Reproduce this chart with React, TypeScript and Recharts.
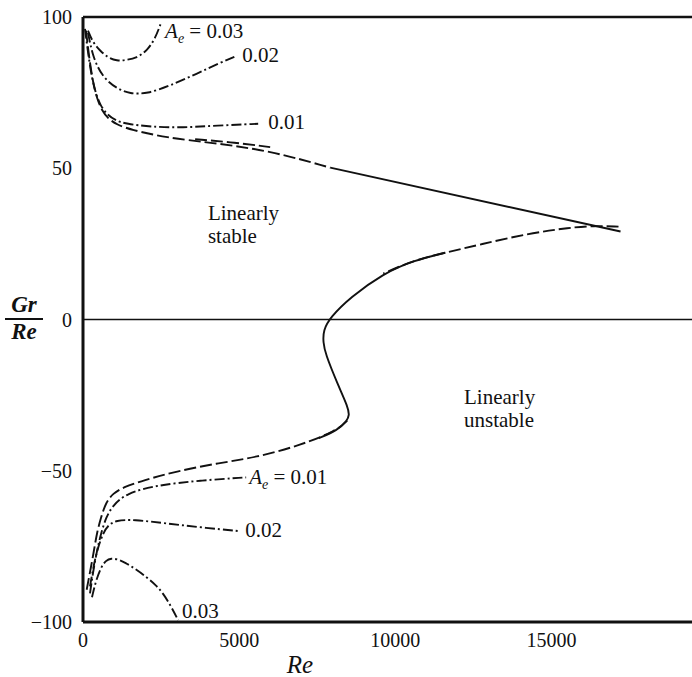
import React from "react"
import { LineChart, Line, XAxis, YAxis, ReferenceLine, ReferenceDot } from "recharts"

type Pt = { re: number; g: number }

const reTicks = [0, 5000, 10000, 15000]
const grReTicks = [-100, -50, 0, 50, 100]

// neutral stability curve, upper branch
const neutralUpperDashed: Pt[] = [
  { re: 96, g: 95.5 }, { re: 192, g: 86.9 }, { re: 320, g: 78.3 }, { re: 449, g: 73 },
  { re: 609, g: 69 }, { re: 801, g: 66.4 }, { re: 1090, g: 64.4 }, { re: 1506, g: 62.8 },
  { re: 2660, g: 60.1 }, { re: 4070, g: 58.5 }, { re: 5993, g: 55.8 }, { re: 7917, g: 50.2 },
]
const neutralUpperDouble: Pt[] = [
  { re: 3590, g: 59.6 }, { re: 4872, g: 58.5 }, { re: 5993, g: 57 },
]
const neutralUpperSolid: Pt[] = [
  { re: 7917, g: 50.2 }, { re: 17212, g: 29.1 },
]

// neutral stability curve, lower branch (from the nose back to small Re)
const neutralLowerDashedA: Pt[] = [
  { re: 17147, g: 30.7 }, { re: 16346, g: 31 }, { re: 15608, g: 30.4 }, { re: 14230, g: 28.4 },
  { re: 12724, g: 24.8 }, { re: 11602, g: 22.1 }, { re: 10577, g: 19.5 }, { re: 9615, g: 15.2 },
]
const neutralLowerSolid: Pt[] = [
  { re: 11602, g: 22.1 }, { re: 10577, g: 19.5 }, { re: 9615, g: 15.2 }, { re: 8557, g: 7.3 },
  { re: 7917, g: 0.7 }, { re: 7692, g: -3.6 }, { re: 7692, g: -7.6 }, { re: 7756, g: -11.2 },
  { re: 8141, g: -21.1 }, { re: 8493, g: -29.1 }, { re: 8525, g: -31.7 }, { re: 8461, g: -33.4 },
  { re: 8141, g: -36.7 }, { re: 7550, g: -39.2 },
]
const neutralLowerDashedB: Pt[] = [
  { re: 8461, g: -33.4 }, { re: 8141, g: -36.7 }, { re: 6955, g: -41.6 }, { re: 5545, g: -45.6 },
  { re: 4263, g: -47.6 }, { re: 2981, g: -50.2 }, { re: 1923, g: -53.2 }, { re: 1282, g: -55.5 },
  { re: 961, g: -57.5 }, { re: 737, g: -60.4 }, { re: 577, g: -65.4 }, { re: 449, g: -70.3 },
  { re: 353, g: -76.3 }, { re: 224, g: -83.6 }, { re: 96, g: -90.5 },
]

// finite-amplitude curves, Gr/Re > 0
const upper003: Pt[] = [
  { re: 160, g: 95.5 }, { re: 320, g: 91.5 }, { re: 545, g: 88.9 }, { re: 801, g: 86.5 },
  { re: 1090, g: 85.5 }, { re: 1346, g: 85.7 }, { re: 1731, g: 86.5 }, { re: 2051, g: 88.9 },
  { re: 2308, g: 92.8 }, { re: 2500, g: 98.1 },
]
const upper002: Pt[] = [
  { re: 160, g: 94.8 }, { re: 320, g: 86.5 }, { re: 641, g: 79.9 }, { re: 1090, g: 76.3 },
  { re: 1506, g: 74.6 }, { re: 2051, g: 74.6 }, { re: 2788, g: 77.3 }, { re: 3654, g: 81.3 },
  { re: 4391, g: 84.9 }, { re: 4936, g: 87.2 },
]
const upper001: Pt[] = [
  { re: 64, g: 96.1 }, { re: 160, g: 88.2 }, { re: 288, g: 79.6 }, { re: 417, g: 74.6 },
  { re: 545, g: 71 }, { re: 769, g: 67.7 }, { re: 1058, g: 65.7 }, { re: 1378, g: 64.7 },
  { re: 2147, g: 63.7 }, { re: 3205, g: 63.4 }, { re: 4263, g: 64.1 }, { re: 5609, g: 64.7 },
]

// finite-amplitude curves, Gr/Re < 0
const lower001: Pt[] = [
  { re: 224, g: -90.5 }, { re: 320, g: -83.6 }, { re: 449, g: -76.3 }, { re: 577, g: -70.7 },
  { re: 737, g: -65.4 }, { re: 961, g: -61.4 }, { re: 1378, g: -57.5 }, { re: 2340, g: -54.8 },
  { re: 3750, g: -53.2 }, { re: 5224, g: -52.2 },
]
const lower002: Pt[] = [
  { re: 224, g: -88.2 }, { re: 353, g: -80.6 }, { re: 481, g: -75.3 }, { re: 641, g: -70.7 },
  { re: 801, g: -68 }, { re: 1058, g: -66.4 }, { re: 1603, g: -66.1 }, { re: 2660, g: -67.4 },
  { re: 3750, g: -68.7 }, { re: 5032, g: -70 },
]
const lower003: Pt[] = [
  { re: 288, g: -91.8 }, { re: 417, g: -86.2 }, { re: 577, g: -81.9 }, { re: 737, g: -79.6 },
  { re: 897, g: -78.9 }, { re: 1122, g: -79.3 }, { re: 1346, g: -80.3 }, { re: 1699, g: -82.6 },
  { re: 2051, g: -85.3 }, { re: 2340, g: -87.9 }, { re: 2564, g: -90.5 }, { re: 2820, g: -94.8 },
  { re: 3045, g: -99.4 },
]

const INK = "#111"
const SERIF = '"Liberation Serif", "Times New Roman", Times, "DejaVu Serif", "Noto Serif", serif'
const DASH = "12 4"
const CHAIN = "10 3 2 3"

const last = (a: Pt[]) => a[a.length - 1]

const fmtTick = (v: number) => (v < 0 ? `\u2212${-v}` : `${v}`)

// text placed relative to the end point of a curve
function endLabel(dx: number, dy: number, value: string, withAe: boolean) {
  return (p: any) => (
    <text x={p.cx + dx} y={p.cy + dy} fontFamily={SERIF} fontSize={21} fill={INK}>
      {withAe && <tspan fontStyle="italic">A</tspan>}
      {withAe && <tspan fontStyle="italic" fontSize={14} dy={5}>e</tspan>}
      {withAe && <tspan dy={-5}>{" = "}</tspan>}
      <tspan>{value}</tspan>
    </text>
  )
}

function regionLabel(text: string, dy: number) {
  return (p: any) => (
    <text x={p.cx} y={p.cy + dy} fontFamily={SERIF} fontSize={21} fill={INK}>
      {text}
    </text>
  )
}

const annotations: { pts: Pt[]; dx: number; dy: number; text: string; ae: boolean }[] = [
  { pts: upper003, dx: 4, dy: 15, text: "0.03", ae: true },
  { pts: upper002, dx: 5, dy: 6, text: "0.02", ae: false },
  { pts: upper001, dx: 10, dy: 5, text: "0.01", ae: false },
  { pts: lower001, dx: 3, dy: 7, text: "0.01", ae: true },
  { pts: lower002, dx: 5, dy: 6, text: "0.02", ae: false },
  { pts: lower003, dx: 4, dy: -2, text: "0.03", ae: false },
]

const series: { pts: Pt[]; dash?: string; curve: "basis" | "linear" }[] = [
  { pts: neutralUpperDashed, dash: DASH, curve: "basis" },
  { pts: neutralUpperDouble, dash: DASH, curve: "basis" },
  { pts: neutralUpperSolid, curve: "linear" },
  { pts: neutralLowerDashedA, dash: DASH, curve: "basis" },
  { pts: neutralLowerDashedB, dash: DASH, curve: "basis" },
  { pts: neutralLowerSolid, curve: "basis" },
  { pts: upper003, dash: CHAIN, curve: "basis" },
  { pts: upper002, dash: CHAIN, curve: "basis" },
  { pts: upper001, dash: CHAIN, curve: "basis" },
  { pts: lower001, dash: CHAIN, curve: "basis" },
  { pts: lower002, dash: CHAIN, curve: "basis" },
  { pts: lower003, dash: CHAIN, curve: "basis" },
]

export default function App() {
  return (
    <div style={{ position: "absolute", left: 0, top: 0, width: 692, height: 677, background: "#fff" }}>
      <LineChart width={692} height={677} margin={{ top: 17, right: 0, bottom: 0, left: 0 }}>
        <XAxis
          dataKey="re"
          type="number"
          domain={[0, 19500]}
          ticks={reTicks}
          allowDataOverflow
          tickSize={0}
          tickMargin={11}
          height={55}
          axisLine={{ stroke: INK, strokeWidth: 3 }}
          tick={{ fill: INK, fontSize: 20, fontFamily: SERIF }}
        />
        <YAxis
          dataKey="g"
          type="number"
          domain={[-100, 100]}
          ticks={grReTicks}
          allowDataOverflow
          tickFormatter={fmtTick}
          tickSize={0}
          tickMargin={11}
          width={83}
          axisLine={{ stroke: INK, strokeWidth: 3 }}
          tick={{ fill: INK, fontSize: 20, fontFamily: SERIF }}
        />
        <ReferenceLine y={100} stroke={INK} strokeWidth={2.5} />
        <ReferenceLine y={0} stroke={INK} strokeWidth={1.6} />
        {series.map((s, i) => (
          <Line
            key={i}
            data={s.pts}
            dataKey="g"
            type={s.curve}
            stroke={INK}
            strokeWidth={1.9}
            strokeDasharray={s.dash}
            dot={false}
            activeDot={false}
            isAnimationActive={false}
          />
        ))}
        {annotations.map((a, i) => (
          <ReferenceDot
            key={i}
            x={last(a.pts).re}
            y={last(a.pts).g}
            r={0}
            shape={endLabel(a.dx, a.dy, a.text, a.ae)}
          />
        ))}
        <ReferenceDot x={4000} y={33} r={0} shape={regionLabel("Linearly", 0)} />
        <ReferenceDot x={4000} y={33} r={0} shape={regionLabel("stable", 23)} />
        <ReferenceDot x={12200} y={-28} r={0} shape={regionLabel("Linearly", 0)} />
        <ReferenceDot x={12200} y={-28} r={0} shape={regionLabel("unstable", 23)} />
      </LineChart>
      <div
        style={{
          position: "absolute", left: 5, top: 293, width: 38, textAlign: "center",
          fontFamily: SERIF, fontStyle: "italic", fontWeight: "bold", fontSize: 23, lineHeight: "24px", color: INK,
        }}
      >
        <div style={{ borderBottom: "2px solid #111", paddingBottom: 1 }}>Gr</div>
        <div>Re</div>
      </div>
      <div
        style={{
          position: "absolute", left: 270, top: 652, width: 60, textAlign: "center",
          fontFamily: SERIF, fontStyle: "italic", fontSize: 25, lineHeight: "25px", color: INK,
        }}
      >
        Re
      </div>
    </div>
  )
}
